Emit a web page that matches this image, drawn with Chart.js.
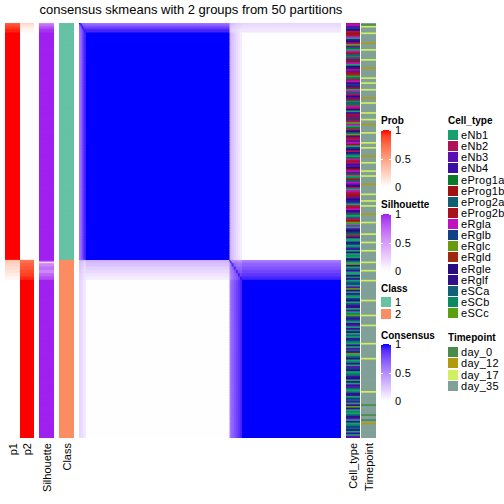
<!DOCTYPE html>
<html lang="en">
<head>
<meta charset="UTF-8" />
<title>consensus skmeans - 2 groups</title>
<script src="https://cdn.jsdelivr.net/npm/chart.js"></script>
<style>
  *{ margin:0; padding:0; box-sizing:border-box; }
  body{ width:504px; height:504px; background:#fff; position:relative; overflow:hidden;
        font-family:'Liberation Sans', Arial, Helvetica, sans-serif; color:#000; }
  canvas{ position:absolute; }
  #title{ position:absolute; left:0; width:382px; top:2px; text-align:center; font-size:13px; white-space:nowrap; }
  .vlbl{ position:absolute; top:443px; font-size:11px; line-height:12px; white-space:nowrap;
         transform-origin:0 0; transform:rotate(-90deg) translate(-100%,-50%); }
  .lt{ position:absolute; font-size:10px; font-weight:bold; height:12px; line-height:12px; white-space:nowrap; }
  .ll{ position:absolute; font-size:11px; letter-spacing:0.3px; height:12px; line-height:12px; white-space:nowrap; }
  .bar{ position:absolute; width:10px; }
  .sq{ position:absolute; width:10px; height:10px; }
  .tk{ position:absolute; width:2px; height:1px; background:#fff; }
</style>
</head>
<body>
<div id="title">consensus skmeans with 2 groups from 50 partitions</div>

<canvas id="p1" width="15" height="415" style="left:5px;top:23px"></canvas>
<canvas id="p2" width="14" height="415" style="left:20px;top:23px"></canvas>
<canvas id="sil" width="15" height="415" style="left:39px;top:23px"></canvas>
<canvas id="cls" width="15" height="415" style="left:59px;top:23px"></canvas>
<canvas id="cons" width="262" height="415" style="left:79px;top:23px"></canvas>
<canvas id="cell" width="14" height="415" style="left:346px;top:23px"></canvas>
<canvas id="time" width="15" height="415" style="left:361px;top:23px"></canvas>

<div id="legends"></div>

<script>
// sample groups, top to bottom (class 1 then class 2)
const groupNames = ['A1','A2','A3','A4','A5','B','C1','C2','C3','C4','C5','C6','C7','D'];
const groupSizes = [1, 1, 1, 1, 2, 137, 1, 1, 2, 2, 2, 2, 2, 95];
const groupP1 = [0.78, 0.84, 0.88, 0.92, 0.96, 1, 0.3, 0.26, 0.22, 0.18, 0.14, 0.1, 0.05, 0];
const groupP2 = [0.22, 0.16, 0.12, 0.08, 0.04, 0, 0.7, 0.74, 0.78, 0.82, 0.86, 0.9, 0.95, 1];
const groupSilhouette = [0.6, 0.7, 0.8, 0.88, 0.95, 1, 0.95, 0.2, 0.6, 0.7, 0.6, 0.75, 0.85, 1];
const groupClass = [1, 1, 1, 1, 1, 1, 2, 2, 2, 2, 2, 2, 2, 2];

// consensus between groups (symmetric)
const consensus = [
  [1, .7, .68, .65, .62, .6, .3, .28, .26, .25, .22, .2, .2, .18],
  [.7, 1, .75, .72, .7, .68, .28, .26, .25, .22, .2, .18, .18, .16],
  [.68, .75, 1, .8, .78, .76, .26, .25, .22, .2, .18, .16, .15, .14],
  [.65, .72, .8, 1, .85, .84, .25, .22, .2, .18, .16, .15, .13, .12],
  [.62, .7, .78, .85, .95, .92, .22, .2, .18, .16, .14, .12, .1, .1],
  [.6, .68, .76, .84, .92, 1, .34, .3, .26, .2, .16, .12, .08, .01],
  [.3, .28, .26, .25, .22, .34, 1, .55, .5, .5, .48, .45, .45, .55],
  [.28, .26, .25, .22, .2, .3, .55, 1, .6, .58, .56, .55, .52, .62],
  [.26, .25, .22, .2, .18, .26, .5, .6, .9, .65, .62, .6, .6, .68],
  [.25, .22, .2, .18, .16, .2, .5, .58, .65, .9, .7, .68, .66, .74],
  [.22, .2, .18, .16, .14, .16, .48, .56, .62, .7, .92, .74, .72, .8],
  [.2, .18, .16, .15, .12, .12, .45, .55, .6, .68, .74, .94, .8, .86],
  [.2, .18, .15, .13, .1, .08, .45, .52, .6, .66, .72, .8, .96, .92],
  [.18, .16, .14, .12, .1, .01, .55, .62, .68, .74, .8, .86, .92, 1]
];

const cellTypes = ['eNb1','eNb2','eNb3','eNb4','eProg1a','eProg1b','eProg2a','eProg2b','eRgla','eRglb','eRglc','eRgld','eRgle','eRglf','eSCa','eSCb','eSCc'];
const cellTypeColors = ['#16a06e','#b0125a','#5a10b0','#3a0ea0','#0a7a2a','#a01010','#0e6070','#a8101c','#c010c0','#10408a','#6a9a10','#a02810','#280a80','#30108a','#10607a','#0a8a60','#5aa010'];
// one letter per sample, a = eNb1 ... q = eSCc
const cellTypeCodes = [
  'bicjmbfhia','dmbkceaiho','pbjfiamdbc','hlaebinjdf','aigbmchpoe',
  'ibmadhcfjb','qiaebmgkdh','bcifajmbno','aeihbdcmfi','jbaphgicmb',
  'aibhfcmdja','bhimceaobf','kaiadmjebn','aanjaodana','pamjaknaod',
  'aanpdaojac','knadpajmao','dnacapkjdo','ancadpnaoa','djpanacodk',
  'aonapdacjn','apodmanadc','oapndajoca','nkdapaonca','dapjonadac'
].join('');

const timepoints = ['day_0','day_12','day_17','day_35'];
const timepointColors = ['#4a8a4a','#b09a10','#d0f060','#80a098'];
// one digit per sample, index into timepoints
const timepointCodes = [
  '3023332333','3313332333','3323333133','3332332333','2333313323',
  '3333233323','3133332333','3323323333','1333233332','3323333133',
  '3332333233','2333313333','2333333233','3323333233','3333233332',
  '3333323333','3333333233','3333332333','3323333333','3332333333',
  '3323333333','3333333333','3323333333','0333330330','3133333333'
].join('');

const classColors = {1: '#66c2a5', 2: '#fc8d62'};
const bottomLabels = [['p1', 12.5], ['p2', 27], ['Silhouette', 46.5], ['Class', 66.5], ['Cell_type', 353], ['Timepoint', 368.5]];

// ---- colour ramps interpolated in LAB, like colorRamp2 ----
function hexToRgb(h){ return [1,3,5].map(i => parseInt(h.slice(i, i+2), 16)); }
function toLin(c){ c /= 255; return c <= 0.04045 ? c/12.92 : Math.pow((c+0.055)/1.055, 2.4); }
function fromLin(c){ c = c <= 0.0031308 ? 12.92*c : 1.055*Math.pow(c, 1/2.4) - 0.055; return Math.round(Math.max(0, Math.min(1, c))*255); }
function rgbToLab(rgb){
  const [r,g,b] = rgb.map(toLin);
  const f = t => t > 0.008856 ? Math.cbrt(t) : 7.787*t + 16/116;
  const x = f((r*0.4124 + g*0.3576 + b*0.1805)/0.95047);
  const y = f(r*0.2126 + g*0.7152 + b*0.0722);
  const z = f((r*0.0193 + g*0.1192 + b*0.9505)/1.08883);
  return [116*y - 16, 500*(x - y), 200*(y - z)];
}
function labToRgb([L,a,b]){
  const fy = (L+16)/116, fx = a/500 + fy, fz = fy - b/200;
  const fi = t => t*t*t > 0.008856 ? t*t*t : (t - 16/116)/7.787;
  const x = fi(fx)*0.95047, y = fi(fy), z = fi(fz)*1.08883;
  return [x*3.2406 - y*1.5372 - z*0.4986, -x*0.9689 + y*1.8758 + z*0.0415, x*0.0557 - y*0.2040 + z*1.0570].map(fromLin);
}
function ramp(lo, hi){
  const A = rgbToLab(hexToRgb(lo)), B = rgbToLab(hexToRgb(hi));
  return v => 'rgb(' + labToRgb(A.map((x,i) => x + (B[i]-x)*v)).join(',') + ')';
}
const probCol = ramp('#ffffff', '#ff0000');
const silCol = ramp('#ffffff', '#a020f0');
const consCol = ramp('#ffffff', '#0000ff');

// ---- expand groups to samples ----
const rowGroup = [];
groupSizes.forEach((n, g) => { for (let k = 0; k < n; k++) rowGroup.push(g); });
const N = rowGroup.length;
const rows = rowGroup.map((g, i) => i);

function opts(xmax){
  return {
    responsive: false, animation: false, devicePixelRatio: 1, events: [],
    indexAxis: 'y',
    layout: { padding: 0 },
    plugins: { legend: { display: false }, tooltip: { enabled: false } },
    scales: {
      x: { display: false, min: 0, max: xmax },
      y: { display: false }
    }
  };
}

function track(id, colors){
  new Chart(document.getElementById(id), {
    type: 'bar',
    data: { labels: rows, datasets: [{ data: rows.map(() => 1), backgroundColor: colors,
      borderWidth: 0, barPercentage: 1, categoryPercentage: 1, inflateAmount: 0.5 }] },
    options: opts(1)
  });
}

track('p1', rowGroup.map(g => probCol(groupP1[g])));
track('p2', rowGroup.map(g => probCol(groupP2[g])));
track('sil', rowGroup.map(g => silCol(groupSilhouette[g])));
track('cls', rowGroup.map(g => classColors[groupClass[g]]));
track('cell', rows.map(i => cellTypeColors[cellTypeCodes.charCodeAt(i) - 97] || '#ffffff'));
track('time', rows.map(i => timepointColors[+timepointCodes[i]] || '#ffffff'));

// consensus matrix: one dataset per column group, a floating bar per row
const consDatasets = [];
let start = 0;
groupSizes.forEach((n, g) => {
  const s = start, e = start + n;
  consDatasets.push({
    label: groupNames[g],
    data: rows.map(() => [s, e]),
    backgroundColor: rowGroup.map(rg => consCol(consensus[rg][g])),
    borderWidth: 0, barPercentage: 1, categoryPercentage: 1, grouped: false, inflateAmount: 0.5
  });
  start = e;
});
new Chart(document.getElementById('cons'), {
  type: 'bar',
  data: { labels: rows, datasets: consDatasets },
  options: opts(N)
});

// ---- labels and legends ----
const lg = document.getElementById('legends');
function add(cls, text, css){
  const d = document.createElement('div');
  d.className = cls; if (text !== null) d.textContent = text;
  Object.assign(d.style, css); lg.appendChild(d); return d;
}
bottomLabels.forEach(([t, x]) => add('vlbl', t, { left: x + 'px' }));

function colorbar(title, ty, top, fn){
  add('lt', title, { left: '381px', top: (ty - 6) + 'px' });
  const stops = [];
  for (let k = 0; k <= 10; k++) stops.push(fn(k/10) + ' ' + (k*10) + '%');
  add('bar', null, { left: '381px', top: top + 'px', height: '57px', background: 'linear-gradient(to top,' + stops.join(',') + ')' });
  [[1, 0], ['0.5', 28.5], [0, 57]].forEach(([t, dy]) => {
    add('ll', String(t), { left: '395px', top: (top + dy - 6) + 'px' });
    add('tk', null, { left: '381px', top: (top + dy) + 'px' });
    add('tk', null, { left: '389px', top: (top + dy) + 'px' });
  });
}
colorbar('Prob', 121, 130, probCol);
colorbar('Silhouette', 205, 214, silCol);
colorbar('Consensus', 336, 344, consCol);

add('lt', 'Class', { left: '381px', top: '283px' });
[1, 2].forEach((c, k) => {
  add('sq', null, { left: '381px', top: (297 + k*12) + 'px', background: classColors[c] });
  add('ll', String(c), { left: '395px', top: (296 + k*12) + 'px' });
});

add('lt', 'Cell_type', { left: '448px', top: '115px' });
cellTypes.forEach((t, k) => {
  const cy = 135 + k*11.13;
  add('sq', null, { left: '448px', top: (cy - 5) + 'px', background: cellTypeColors[k] });
  add('ll', t, { left: '461px', top: (cy - 6) + 'px' });
});

add('lt', 'Timepoint', { left: '448px', top: '332px' });
timepoints.forEach((t, k) => {
  const cy = 352 + k*11.3;
  add('sq', null, { left: '448px', top: (cy - 5) + 'px', background: timepointColors[k] });
  add('ll', t, { left: '461px', top: (cy - 6) + 'px' });
});
</script>
</body>
</html>
